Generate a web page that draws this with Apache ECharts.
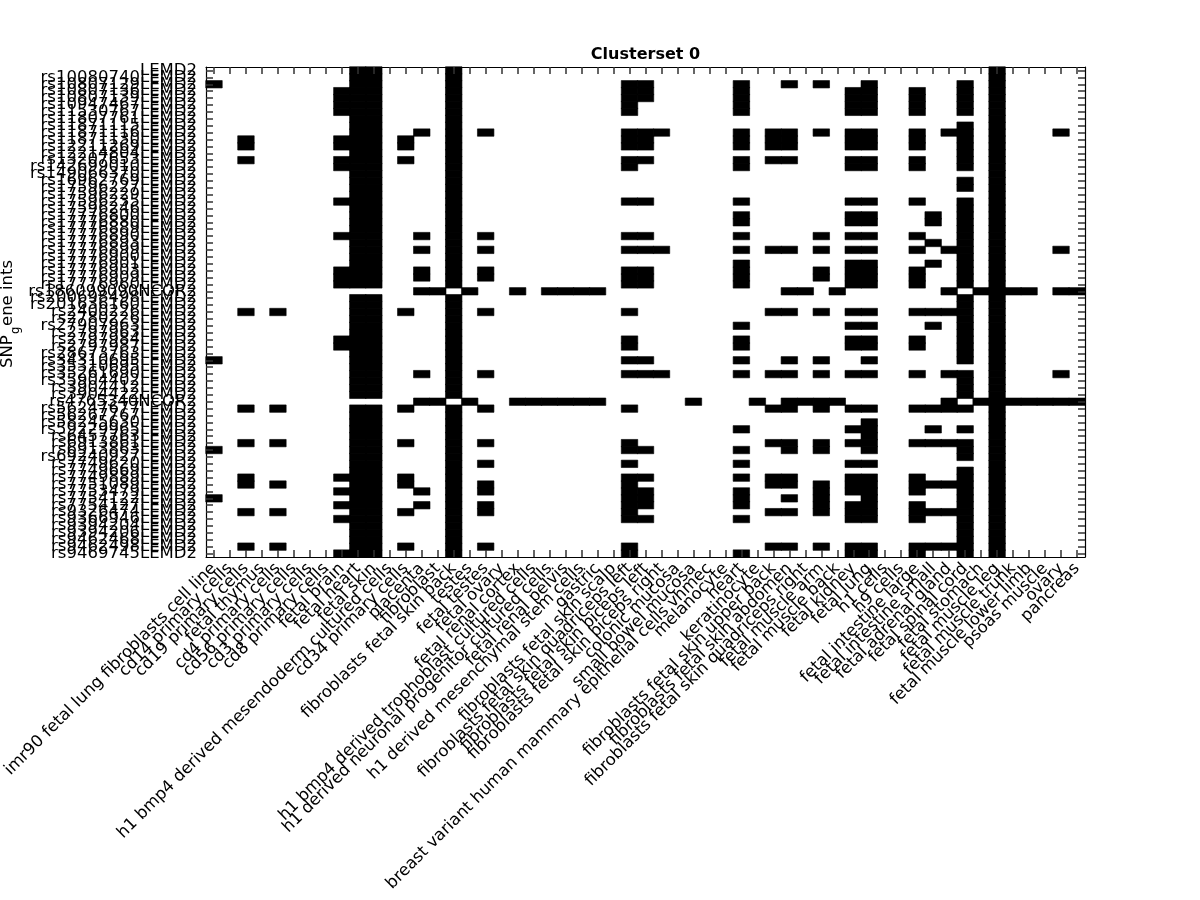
<!DOCTYPE html>
<html><head><meta charset="utf-8">
<script src="https://cdn.jsdelivr.net/npm/echarts@6/dist/echarts.min.js"></script>
<style>html,body{margin:0;padding:0;background:#fff}#c{width:1200px;height:900px}</style>
</head><body><div id="c"></div>
<script>
const colLabels = [
"imr90 fetal lung fibroblasts cell line","cd14 primary cells","cd19 primary cells","fetal thymus",
"cd4 primary cells","cd56 primary cells","cd3 primary cells","cd8 primary cells","fetal brain",
"fetal heart","fetal skin","h1 bmp4 derived mesendoderm cultured cells","cd34 primary cells",
"placenta","fibroblast","fibroblasts fetal skin back","testes","fetal testes","fetal ovary",
"fetal renal cortex","h1 bmp4 derived trophoblast cultured cells",
"h1 derived neuronal progenitor cultured cells","fetal renal pelvis",
"h1 derived mesenchymal stem cells","gastric","fibroblasts fetal skin scalp",
"fibroblasts fetal skin quadriceps left","fibroblasts fetal skin biceps left",
"fibroblasts fetal skin biceps right","colonic mucosa","small bowel mucosa",
"breast variant human mammary epithelial cells vhmec","melanocyte","heart","keratinocyte",
"fibroblasts fetal skin upper back","fibroblasts fetal skin abdomen",
"fibroblasts fetal skin quadriceps right","fetal muscle arm","fetal muscle back","fetal kidney",
"fetal lung","h1 cells","h9 cells","fetal intestine large","fetal intestine small",
"fetal adrenal gland","fetal spinal cord","fetal stomach","fetal muscle leg","fetal muscle trunk",
"fetal muscle lower limb","psoas muscle","ovary","pancreas"];

const rowLabels = [
"LEMD2","rs10080740LEMD2","rs10807129LEMD2","rs10807136LEMD2","rs10807139LEMD2",
"rs10947467LEMD2","rs11530767LEMD2","rs11807761LEMD2","rs11871115LEMD2","rs11871116LEMD2",
"rs11871130LEMD2","rs12211269LEMD2","rs12214804LEMD2","rs13207653LEMD2","rs142699010LEMD2",
"rs149066370LEMD2","rs16962769LEMD2","rs17596227LEMD2","rs17596229LEMD2","rs17596235LEMD2",
"rs17596246LEMD2","rs17776800LEMD2","rs17776880LEMD2","rs17776889LEMD2","rs17776890LEMD2",
"rs17776893LEMD2","rs17776899LEMD2","rs17776900LEMD2","rs17776901LEMD2","rs17776903LEMD2",
"rs17776909LEMD2","rs17776960LEMD2","rs186099090NCOR2","rs200698498LEMD2","rs201636160LEMD2",
"rs2400226LEMD2","rs2780226LEMD2","rs27907963LEMD2","rs2797963LEMD2","rs2797984LEMD2",
"rs2797987LEMD2","rs28673763LEMD2","rs34310695LEMD2","rs35310695LEMD2","rs35261690LEMD2",
"rs35904402LEMD2","rs3904412LEMD2","rs3904422LEMD2","rs4765340NCOR2","rs56247677LEMD2",
"rs56267767LEMD2","rs58245630LEMD2","rs59229965LEMD2","rs6457763LEMD2","rs6913861LEMD2",
"rs6913863LEMD2","rs69240927LEMD2","rs7749620LEMD2","rs7749669LEMD2","rs7749889LEMD2",
"rs7751089LEMD2","rs7753479LEMD2","rs7754122LEMD2","rs7754127LEMD2","rs9326474LEMD2",
"rs9366946LEMD2","rs9394204LEMD2","rs9394206LEMD2","rs9462468LEMD2","rs9462498LEMD2",
"rs9469745LEMD2"];

// for each row (top to bottom): the column indices whose cell is black (value 1); others are 0
const blackCols = [
[9,10,15,49],
[9,10,15,49],
[0,9,10,15,26,27,33,36,38,41,47,49],
[8,9,10,15,26,27,33,40,41,44,47,49],
[8,9,10,15,26,27,33,40,41,44,47,49],
[8,9,10,15,26,33,40,41,44,47,49],
[8,9,10,15,26,33,40,41,44,47,49],
[9,10,15,49],
[9,10,15,47,49],
[9,10,13,15,17,26,27,28,33,35,36,38,40,41,44,46,47,49,53],
[2,8,9,10,12,15,26,27,33,35,36,40,41,44,47,49],
[2,8,9,10,12,15,26,27,33,35,36,40,41,44,47,49],
[9,10,15,47,49],
[2,8,9,10,12,15,26,27,33,35,36,40,41,44,47,49],
[8,9,10,15,26,33,40,41,44,47,49],
[9,10,15,49],
[9,10,15,47,49],
[9,10,15,47,49],
[9,10,15,49],
[8,9,10,15,26,27,33,40,41,44,47,49],
[9,10,15,47,49],
[9,10,15,33,40,41,45,47,49],
[9,10,15,33,40,41,45,47,49],
[9,10,15,47,49],
[8,9,10,13,15,17,26,27,33,38,40,41,44,47,49],
[9,10,15,45,47,49],
[9,10,13,15,17,26,27,28,33,35,36,38,40,41,44,46,47,49,53],
[9,10,15,47,49],
[9,10,15,33,40,41,45,47,49],
[8,9,10,13,15,17,26,27,33,38,40,41,44,47,49],
[8,9,10,13,15,17,26,27,33,38,40,41,44,47,49],
[8,9,10,15,26,27,33,40,41,44,47,49],
[13,14,16,19,21,22,23,24,36,37,39,46,48,49,50,51,53,54],
[9,10,15,47,49],
[9,10,15,47,49],
[2,4,9,10,12,15,17,26,35,36,38,40,41,44,45,46,47,49],
[9,10,15,47,49],
[9,10,15,33,40,41,45,47,49],
[9,10,15,47,49],
[8,9,10,15,26,33,40,41,44,47,49],
[8,9,10,15,26,33,40,41,44,47,49],
[9,10,15,47,49],
[0,9,10,15,26,27,33,36,38,41,47,49],
[9,10,15,49],
[9,10,13,15,17,26,27,28,33,35,36,38,40,41,44,46,47,49,53],
[9,10,15,47,49],
[9,10,15,47,49],
[9,10,15,47,49],
[13,14,16,19,20,21,22,23,24,30,34,36,37,38,39,46,48,49,50,51,52,53,54],
[2,4,9,10,12,15,17,26,35,36,38,40,41,44,45,46,47,49],
[9,10,15,49],
[9,10,15,41,49],
[9,10,15,33,40,41,45,47,49],
[9,10,15,41,49],
[2,4,9,10,12,15,17,26,35,36,38,40,41,44,45,46,47,49],
[0,9,10,15,26,27,33,36,38,41,47,49],
[9,10,15,47,49],
[9,10,15,17,26,33,40,41,49],
[9,10,15,47,49],
[2,8,9,10,12,15,26,27,33,35,36,40,41,44,47,49],
[2,4,9,10,12,15,17,26,35,36,38,40,41,44,45,46,47,49],
[8,9,10,13,15,17,26,27,33,38,40,41,44,47,49],
[0,9,10,15,26,27,33,36,38,41,47,49],
[8,9,10,13,15,17,26,27,33,38,40,41,44,47,49],
[2,4,9,10,12,15,17,26,35,36,38,40,41,44,45,46,47,49],
[8,9,10,15,26,27,33,40,41,44,47,49],
[9,10,15,47,49],
[9,10,15,47,49],
[9,10,15,47,49],
[2,4,9,10,12,15,17,26,35,36,38,40,41,44,45,46,47,49],
[8,9,10,15,26,33,40,41,44,47,49]
];

// only the value-1 cells are drawn (value-0 cells are the white background)
const cells = [];
for (let r = 0; r < rowLabels.length; r++) {
  (blackCols[r] || []).forEach(c => cells.push([c, r, 1]));
}

const FONT = 'DejaVu Sans';
const tick = {show: true, inside: true, alignWithLabel: true, interval: 0, length: 7, lineStyle: {color: '#333', width: 1.5}};
const line = {show: true, lineStyle: {color: '#000', width: 1.2}};

const chart = echarts.init(document.getElementById('c'), null, {renderer: 'canvas'});
chart.setOption({
  animation: false,
  backgroundColor: '#fff',
  grid: {left: 206, top: 67, width: 879, height: 490, containLabel: false, outerBoundsMode: 'none'},
  xAxis: [
    {type: 'category', data: colLabels, position: 'bottom', z: 5, axisLine: line, axisTick: tick,
     axisLabel: {interval: 0, rotate: 45, fontSize: 16.5, fontFamily: FONT, color: '#000', margin: 9},
     splitLine: {show: false}},
    {type: 'category', data: colLabels, position: 'top', z: 5, axisLine: line, axisTick: tick,
     axisLabel: {show: false, interval: 0}, splitLine: {show: false}}
  ],
  yAxis: [
    {type: 'category', data: rowLabels, inverse: true, position: 'left', z: 5, axisLine: line, axisTick: tick,
     axisLabel: {interval: 0, fontSize: 16.5, fontFamily: FONT, color: '#000', margin: 9},
     splitLine: {show: false}},
    {type: 'category', data: rowLabels, inverse: true, position: 'right', z: 5, axisLine: line, axisTick: tick,
     axisLabel: {show: false, interval: 0}, splitLine: {show: false}}
  ],
  visualMap: {type: 'piecewise', show: false, dimension: 2,
    pieces: [{value: 0, color: '#ffffff'}, {value: 1, color: '#000000'}]},
  series: [{type: 'heatmap', data: cells, xAxisIndex: 0, yAxisIndex: 0, z: 2,
    itemStyle: {borderWidth: 0.6, borderColor: '#000'}}],
  graphic: [
    {type: 'text', x: 645.5, y: 55, style: {text: 'Clusterset 0', font: 'bold 16px ' + FONT, fill: '#000', textAlign: 'center', textVerticalAlign: 'middle'}},
    {type: 'text', x: 8, y: 368, rotation: Math.PI / 2, style: {text: 'SNP', font: '16.5px ' + FONT, fill: '#000', textAlign: 'left', textVerticalAlign: 'middle'}},
    {type: 'text', x: 16, y: 334, rotation: Math.PI / 2, style: {text: 'g', font: '11.5px ' + FONT, fill: '#000', textAlign: 'left', textVerticalAlign: 'middle'}},
    {type: 'text', x: 8, y: 326, rotation: Math.PI / 2, style: {text: 'ene ints', font: '16.5px ' + FONT, fill: '#000', textAlign: 'left', textVerticalAlign: 'middle'}}
  ]
});
</script></body></html>
